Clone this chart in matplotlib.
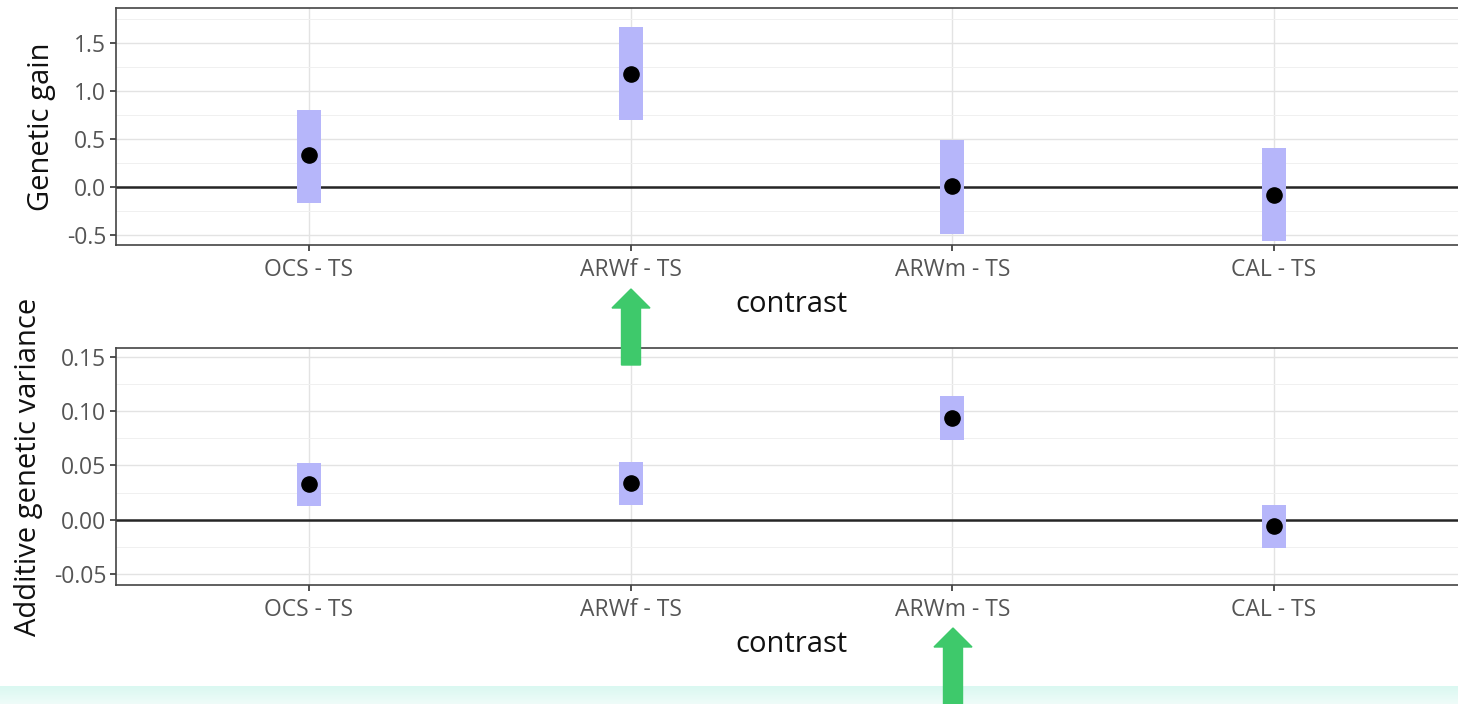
import numpy as np
import matplotlib.pyplot as plt
from matplotlib.colors import LinearSegmentedColormap
from matplotlib.patches import FancyArrow
from matplotlib.ticker import MultipleLocator

plt.rcParams['font.family'] = ['Open Sans', 'DejaVu Sans']

contrasts = ["OCS - TS", "ARWf - TS", "ARWm - TS", "CAL - TS"]

# genetic gain: estimate and interval
gain_est = [0.33, 1.18, 0.01, -0.08]
gain_lo = [-0.17, 0.70, -0.49, -0.56]
gain_hi = [0.80, 1.67, 0.49, 0.41]

# additive genetic variance: estimate and interval
var_est = [0.033, 0.034, 0.094, -0.006]
var_lo = [0.013, 0.014, 0.073, -0.026]
var_hi = [0.052, 0.053, 0.114, 0.014]

fig = plt.figure(figsize=(14.58, 7.04), dpi=100)
fig.patch.set_facecolor("white")

# light band at the bottom
band = fig.add_axes([0, 0, 1, 18 / 704])
grad = np.linspace(0, 1, 50).reshape(-1, 1)
band.imshow(grad, aspect="auto", extent=[0, 1, 0, 1],
            cmap=LinearSegmentedColormap.from_list("b", ["#daf8f1", "#effcf9"]))
band.axis("off")

ax1 = fig.add_axes([116 / 1458, 1 - 245 / 704, 1351 / 1458, 237 / 704])
ax2 = fig.add_axes([116 / 1458, 1 - 585 / 704, 1351 / 1458, 237 / 704])

gray = "#555555"


def panel(ax, est, lo, hi, ylim, major, minor, fmt, ylabel):
    x = np.arange(len(contrasts))
    ax.set_xlim(-0.6, len(contrasts) - 0.4)
    ax.set_ylim(*ylim)
    ax.yaxis.set_minor_locator(MultipleLocator(minor))
    ax.grid(True, which="major", color="#e3e3e3", linewidth=1.0)
    ax.grid(True, which="minor", axis="y", color="#f0f0f0", linewidth=0.7)
    ax.set_axisbelow(True)
    ax.axhline(0, color="#262626", linewidth=1.8, zorder=2)
    ax.bar(x, np.array(hi) - np.array(lo), bottom=lo, width=0.075,
           color="#b6b6fa", zorder=3)
    ax.scatter(x, est, s=120, color="black", zorder=4)
    ax.set_xticks(x)
    ax.set_xticklabels(contrasts)
    ticks = np.arange(np.ceil(ylim[0] / major) * major, ylim[1], major)
    ax.set_yticks(ticks)
    ax.set_yticklabels([fmt.format(t + 0.0) for t in ticks])
    ax.tick_params(axis="both", which="major", length=4, width=1.2, color="#333333",
                   labelsize=16.5, labelcolor=gray, pad=3)
    ax.tick_params(axis="x", which="major", pad=5)
    ax.tick_params(axis="both", which="minor", length=0)
    for s in ax.spines.values():
        s.set_color("#444444")
        s.set_linewidth(1.2)
    ax.set_xlabel("contrast", fontsize=21, color="#111111", labelpad=6)
    ax.set_ylabel(ylabel, fontsize=21, color="#111111", labelpad=8)


panel(ax1, gain_est, gain_lo, gain_hi, (-0.604, 1.865), 0.5, 0.25, "{:.1f}", "Genetic gain")
panel(ax2, var_est, var_lo, var_hi, (-0.060, 0.158), 0.05, 0.025, "{:.2f}", "Additive genetic variance")

# green arrows
green = "#3ec96b"
for xc, ytip, ybase in [(631, 289, 365), (953, 628, 704)]:
    fx = xc / 1458
    fig.patches.append(FancyArrow(fx, 1 - ybase / 704, 0, (ybase - ytip) / 704,
                                  width=19 / 1458, head_width=38 / 1458,
                                  head_length=19 / 704, length_includes_head=True,
                                  color=green, transform=fig.transFigure, figure=fig))

fig.savefig("out.png", dpi=100)
